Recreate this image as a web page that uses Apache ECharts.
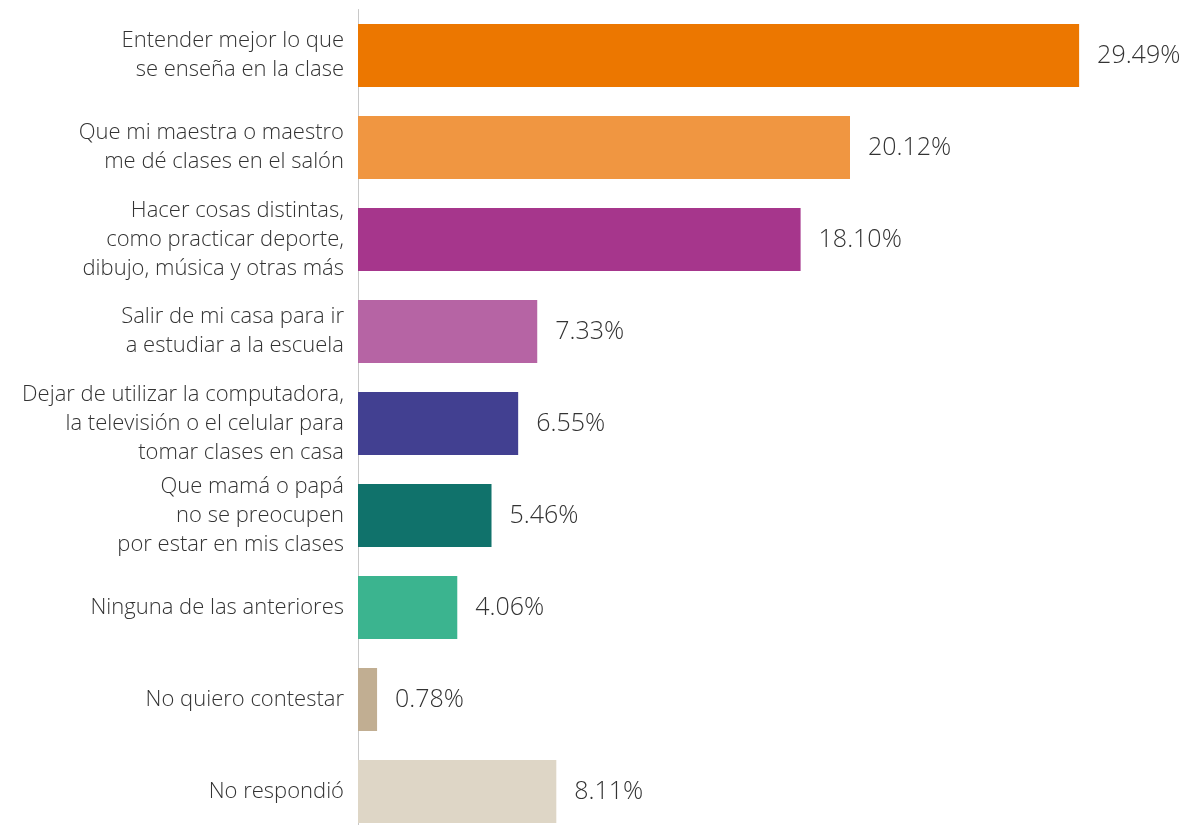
<!DOCTYPE html>
<html>
<head>
<meta charset="utf-8">
<script src="https://cdn.jsdelivr.net/npm/echarts@6/dist/echarts.min.js"></script>
<style>
html,body{margin:0;padding:0;background:#fff;}
#chart{width:1186px;height:825px;}
</style>
</head>
<body>
<div id="chart"></div>
<script>
const categories = [
  "Entender mejor lo que\nse enseña en la clase",
  "Que mi maestra o maestro\nme dé clases en el salón",
  "Hacer cosas distintas,\ncomo practicar deporte,\ndibujo, música y otras más",
  "Salir de mi casa para ir\na estudiar a la escuela",
  "Dejar de utilizar la computadora,\nla televisión o el celular para\ntomar clases en casa",
  "Que mamá o papá\nno se preocupen\npor estar en mis clases",
  "Ninguna de las anteriores",
  "No quiero contestar",
  "No respondió"
];
const values = [29.49, 20.12, 18.10, 7.33, 6.55, 5.46, 4.06, 0.78, 8.11];
const barColors = ["#EC7700", "#F09641", "#A6368C", "#B664A4", "#424091", "#10726B", "#3BB48F", "#C1AE92", "#DED6C6"];

const font = "Open Sans";
const chart = echarts.init(document.getElementById('chart'));
chart.setOption({
  animation: false,
  backgroundColor: '#fff',
  grid: { left: 358, right: 45.5, top: 9.5, height: 828, containLabel: false, outerBoundsMode: 'none' },
  xAxis: { type: 'value', min: 0, max: 32, show: false },
  yAxis: {
    type: 'category',
    inverse: true,
    data: categories,
    axisLine: { show: true, lineStyle: { color: '#c8c8c8', width: 1 } },
    axisTick: { show: false },
    axisLabel: {
      margin: 14,
      fontFamily: font,
      fontWeight: 300,
      fontSize: 22,
      lineHeight: 29,
      padding: [0, 0, 4, 0],
      color: '#333',
      align: 'right'
    }
  },
  series: [{
    type: 'bar',
    barWidth: 63,
    data: values.map((v, i) => ({ value: v, itemStyle: { color: barColors[i] } })),
    label: {
      show: true,
      position: 'right',
      distance: 18,
      fontFamily: font,
      fontWeight: 300,
      fontSize: 25,
      color: '#333',
      formatter: p => p.value.toFixed(2) + '%'
    }
  }]
});
</script>
</body>
</html>
